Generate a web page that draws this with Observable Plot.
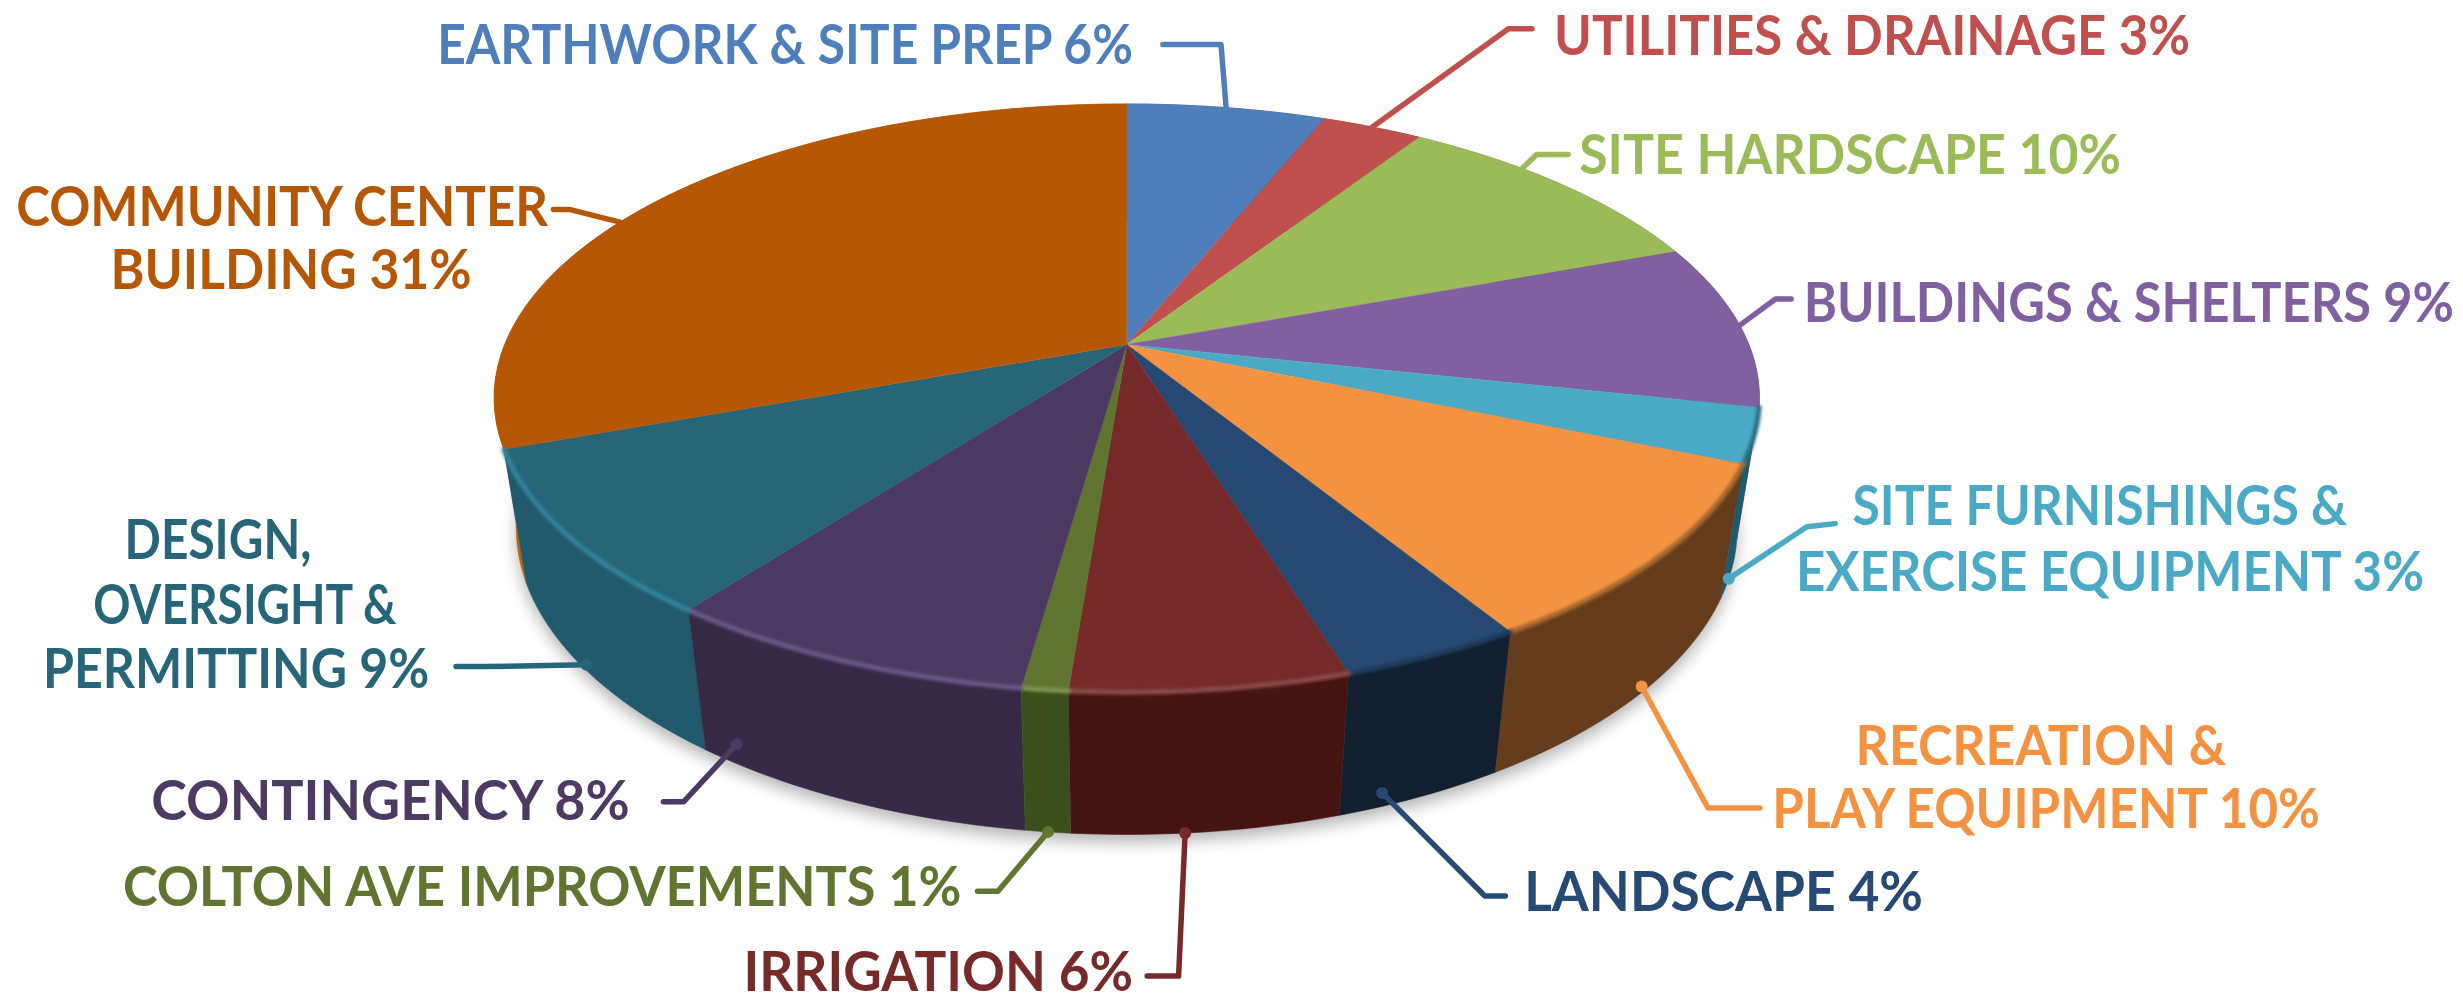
<!DOCTYPE html>
<html><head><meta charset="utf-8">
<style>html,body{margin:0;padding:0;background:#fff}svg{display:block}</style>
<script src="https://cdn.jsdelivr.net/npm/d3@7"></script>
<script src="https://cdn.jsdelivr.net/npm/@observablehq/plot@0.6"></script>
</head><body><div id="chart"></div>
<script>
const categories = ["Earthwork & Site Prep","Utilities & Drainage","Site Hardscape","Buildings & Shelters","Site Furnishings & Exercise Equipment","Recreation & Play Equipment","Landscape","Irrigation","Colton Ave Improvements","Contingency","Design, Oversight & Permitting","Community Center Building"];
const shares = [6,3,10,9,3,10,4,6,1,8,9,31];
const topColors = ["#4f7fba","#c0504d","#9bbb59","#8060a0","#4aa9c4","#f39241","#264a73","#772a2a","#5f7530","#4d3a62","#276679","#b55705"];
const wallColors = ["#35557c","#803533","#677d3b","#55406b","#1c5c6e","#653d1c","#12202f","#451512","#3b4f1c","#372a46","#215a6d","#c46200"];
const rimColors = ["#35557c","#803533","#677d3b","#55406b","#2b6f85","#a8682f","#1f3a5a","#8a4a48","#7d9350","#6b5688","#32839b","#c46200"];
const textColors = ["#4f7fba","#c0504d","#9bbb59","#8060a0","#4aa9c4","#f39241","#264a73","#772a2a","#5f7530","#4d3a62","#276679","#b55705"];

// text lines: slice index, text, left, right, middle (reference units)
const labelSlice = [0,1,2,3,4,4,5,5,6,7,8,9,10,10,10,11,11];
const labelText = ["EARTHWORK & SITE PREP 6%","UTILITIES & DRAINAGE 3%","SITE HARDSCAPE 10%","BUILDINGS & SHELTERS 9%","SITE FURNISHINGS &","EXERCISE EQUIPMENT 3%","RECREATION &","PLAY EQUIPMENT 10%","LANDSCAPE 4%","IRRIGATION 6%","COLTON AVE IMPROVEMENTS 1%","CONTINGENCY 8%","DESIGN,","OVERSIGHT &","PERMITTING 9%","COMMUNITY CENTER","BUILDING 31%"];
const labelLeft = [278,989,1005,1148,1179,1143,1181,1128,970,473,78,96,79,59,27,10,70];
const labelRight = [722,1394,1350,1562,1494,1544,1417,1479,1224,721,613,402,198,253,273,350,300];
const labelMid = [29.5,23.5,99.5,193.5,322.5,364.5,475.5,515.5,568.5,619.5,565.5,510.5,344.5,385.5,426.5,132.5,172.5];

// leader lines: start, elbow, then a place on the pie given by share position and depth
const leadStart = [[740,28],[975,18],[998,98],[1140,190],[1168,333],[1120,514],[958,570],[730,621],[622,567],[422,510],[290,424],[352,133]];
const leadElbow = [[777,28],[960,18],[978,98],[1130,190],[1150,335],[1087,514],[945,570],[750,621],[635,567],[435,510],[310,424],[362,133]];
const leadShare = [3,7.5,12.5,23.5,30,36,44,48.5,51.5,59,64.5,82.4];
const leadDepth = [0,0,0,0,1,.95,.9,1,1,.85,.95,0];

// perspective of the pie
const cx=717, cy=219, A=396, B=181, k=.182, m=.035, D=85;
function project(share, z){
  const t0=share*3.6*Math.PI/180, c0=Math.cos(t0), s0=Math.sin(t0);
  const t=t0+(1.5*s0*s0+(c0<0?.8*c0*c0:0))*Math.PI/180;
  const X=Math.sin(t), Y=Math.cos(t), w=1+k*Y+m*z;
  return {x:cx+A*X/w, y:cy-B*Y/w+D*z/w};
}
const cum=[0]; shares.forEach(s=>cum.push(cum[cum.length-1]+s));
function arc(a,b,z){const n=Math.max(2,Math.ceil((b-a)*3.6)),o=[];for(let i=0;i<=n;i++)o.push(project(a+(b-a)*i/n,z));return o;}

const order=d3.range(shares.length).sort((i,j)=>Math.abs((cum[j]+cum[j+1])/2-50)-Math.abs((cum[i]+cum[i+1])/2-50));
const walls=order.flatMap(i=>[...arc(cum[i],cum[i+1],0),...arc(cum[i],cum[i+1],1).reverse()].map(p=>({...p,i,color:wallColors[i]})));
const tops=shares.flatMap((s,i)=>[{x:cx,y:cy},...arc(cum[i],cum[i+1],0)].map(p=>({...p,i,color:topColors[i]})));
const rims=shares.flatMap((s,i)=>cum[i]>=28?arc(cum[i],Math.min(cum[i+1],70),0).map(p=>({...p,i,color:rimColors[i]})):[]).filter(d=>d.i<=10);
const shadow=arc(20,80,1).map(p=>({x:p.x,y:p.y+5}));
const leaders=shares.flatMap((s,i)=>[{x:leadStart[i][0],y:leadStart[i][1]},{x:leadElbow[i][0],y:leadElbow[i][1]},project(leadShare[i],leadDepth[i])].map(p=>({...p,i,color:textColors[i]})));
const dots=shares.map((s,i)=>({...project(leadShare[i],leadDepth[i]),color:textColors[i],show:leadDepth[i]>0})).filter(d=>d.show);
const labels=labelText.map((text,i)=>({text,left:labelLeft[i],len:labelRight[i]-labelLeft[i],mid:labelMid[i],color:textColors[labelSlice[i]]}));
const S=2463/1568;

const measure=document.createElement("canvas").getContext("2d");
measure.font="700 55px Lato";
function withFilter(id){return (index,scales,values,dims,ctx,next)=>{const g=next(index,scales,values,dims,ctx);g.setAttribute("filter",`url(#${id})`);return g;};}
function fitted(rows){return (index,scales,values,dims,ctx,next)=>{const g=next(index,scales,values,dims,ctx);
  g.querySelectorAll("text").forEach((t,j)=>{const d=rows[index[j]];const sx=d.len*S/measure.measureText(d.text).width;
    t.setAttribute("transform",`${t.getAttribute("transform")||""} scale(${sx.toFixed(4)},1)`);});return g;};}

const plot=Plot.plot({
  width:2463,height:996,margin:0,style:{background:"#fff"},
  x:{domain:[0,1568],range:[0,2463],axis:null},
  y:{domain:[0,634],range:[0,996],axis:null},
  marks:[
    ()=>{const g=d3.create("svg:g");const d=g.append("defs");
      d.append("filter").attr("id","sh").attr("x","-10%").attr("y","-10%").attr("width","120%").attr("height","130%").append("feGaussianBlur").attr("stdDeviation",8);
      d.append("filter").attr("id","rim").attr("x","-5%").attr("y","-5%").attr("width","110%").attr("height","110%").append("feGaussianBlur").attr("stdDeviation",1.8);
      return g.node();},
    Plot.line(shadow,{x:"x",y:"y",fill:"#b4b4b4",stroke:"none",render:withFilter("sh")}),
    Plot.line(walls,{x:"x",y:"y",z:"i",fill:"color",stroke:"color",strokeWidth:.6}),
    Plot.line(tops,{x:"x",y:"y",z:"i",fill:"color",stroke:"color",strokeWidth:.6,curve:"linear"}),
    Plot.line(rims,{x:"x",y:"y",z:"i",stroke:"color",strokeWidth:5,render:withFilter("rim")}),
    Plot.line(leaders,{x:"x",y:"y",z:"i",stroke:"color",strokeWidth:5.5,strokeLinejoin:"round"}),
    Plot.dot(dots,{x:"x",y:"y",r:6,fill:"color",stroke:"none"}),
    Plot.text(labels,{x:"left",y:"mid",text:"text",fill:"color",lineAnchor:"middle",textAnchor:"start",fontSize:55,fontWeight:700,fontFamily:"Lato",render:fitted(labels)})
  ]
});
document.getElementById("chart").append(plot);
</script></body></html>
